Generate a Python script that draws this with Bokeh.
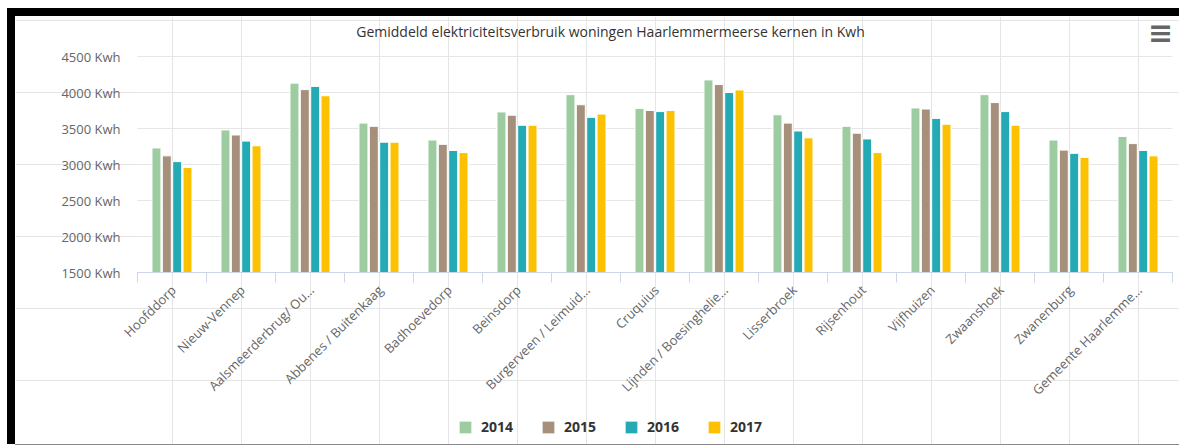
from math import pi
from bokeh.plotting import figure
from bokeh.models import FactorRange, Range1d, Label, ColumnDataSource
from bokeh.transform import dodge
from bokeh.core.properties import value
from bokeh.embed import file_html
from bokeh.resources import INLINE

# ---------------- data ----------------
categories = ["Hoofddorp", "Nieuw-Vennep", "Aalsmeerderbrug/ Ou…", "Abbenes / Buitenkaag",
              "Badhoevedorp", "Beinsdorp", "Burgerveen / Leimuid…", "Cruquius",
              "Lijnden / Boesinghelie…", "Lisserbroek", "Rijsenhout", "Vijfhuizen",
              "Zwaanshoek", "Zwanenburg", "Gemeente Haarlemme…"]
years = ["2014", "2015", "2016", "2017"]
v2014 = [3230, 3480, 4130, 3575, 3340, 3730, 3970, 3780, 4175, 3690, 3530, 3785, 3970, 3340, 3390]
v2015 = [3120, 3410, 4040, 3530, 3280, 3685, 3830, 3750, 4110, 3575, 3435, 3770, 3860, 3200, 3290]
v2016 = [3040, 3325, 4085, 3310, 3195, 3545, 3655, 3735, 4000, 3465, 3355, 3640, 3735, 3155, 3195]
v2017 = [2960, 3260, 3955, 3310, 3165, 3545, 3700, 3750, 4035, 3370, 3165, 3560, 3545, 3100, 3120]
y_ticks = [1500, 2000, 2500, 3000, 3500, 4000, 4500]
title_text = "Gemiddeld elektriciteitsverbruik woningen Haarlemmermeerse kernen in Kwh"

colors = ["#9ccc9f", "#a68f7b", "#23aab5", "#fcc100"]
offsets = [-0.225, -0.075, 0.075, 0.225]
FONT = "Open Sans"

# layout (pixels): the frame fills the whole figure, so every text is drawn inside it.
FIG_H, AXIS_FROM_TOP, PLOT_PX = 428, 256, 216
CAT_PX, LEFT_PX = 69, 122
per_px = (y_ticks[-1] - y_ticks[0]) / PLOT_PX
y_top = y_ticks[0] + AXIS_FROM_TOP * per_px
y_bottom = y_ticks[0] - (FIG_H - AXIS_FROM_TOP) * per_px
pad = LEFT_PX / CAT_PX
fig_w = CAT_PX * len(categories) + 2 * LEFT_PX

source = ColumnDataSource(dict(cat=categories, y2014=v2014, y2015=v2015, y2016=v2016, y2017=v2017))
last_source = ColumnDataSource(dict(cat=categories[-1:]))
ysrc = ColumnDataSource(dict(first=[categories[0]] * len(y_ticks), last=[categories[-1]] * len(y_ticks),
                             y=y_ticks, label=["%d Kwh" % t for t in y_ticks]))

p = figure(x_range=FactorRange(*categories, range_padding=pad, range_padding_units="absolute"),
           y_range=Range1d(y_bottom, y_top),
           width=fig_w, height=FIG_H, min_border_left=0, min_border_right=0,
           min_border_top=0, min_border_bottom=0, title=None,
           output_backend="svg", toolbar_location=None, x_axis_location=None, y_axis_location=None)
p.margin = (16, 0, 0, 15)
p.styles = {"box-shadow": "-8px -8px 0 0 #000, 0 -8px 0 0 #000, -8px 0 0 0 #000, 0 1px 0 0 #8a8a8a"}
p.outline_line_color = None
p.background_fill_color = "white"
p.border_fill_color = "white"

# horizontal grid lines and y labels
p.segment(x0=dodge("first", -0.5, range=p.x_range), x1=dodge("last", 0.5, range=p.x_range),
          y0="y", y1="y", source=ysrc, line_color="#e6e6e6", line_width=1)
p.text(x=dodge("first", -0.5, range=p.x_range), y="y", text="label", source=ysrc,
       x_offset=-17, text_align="right", text_baseline="middle",
       text_font=value(FONT), text_font_size=value("13px"), text_color="#666666")

for yr, col, off in zip(years, colors, offsets):
    p.vbar(x=dodge("cat", off, range=p.x_range), top="y" + yr, bottom=y_ticks[0], width=0.13,
           source=source, fill_color=col, line_color="white", line_width=1, legend_label=yr)

# x axis line, boundary ticks and rotated category labels
p.segment(x0=dodge("first", -0.5, range=p.x_range), x1=dodge("last", 0.5, range=p.x_range),
          y0="y", y1="y", source=ColumnDataSource(dict(first=[categories[0]], last=[categories[-1]],
                                                         y=y_ticks[:1])),
          line_color="#ccd6eb", line_width=1)
p.ray(x=dodge("cat", -0.5, range=p.x_range), y=y_ticks[0], length=10, length_units="screen",
      angle=-pi / 2, line_color="#ccd6eb", line_width=1, source=source)
p.ray(x=dodge("cat", 0.5, range=p.x_range), y=y_ticks[0], length=10, length_units="screen",
      angle=-pi / 2, line_color="#ccd6eb", line_width=1, source=last_source)
p.text(x=dodge("cat", 0.02, range=p.x_range), y=y_ticks[0], text="cat", source=source,
       angle=pi / 4, y_offset=15, text_align="right", text_baseline="middle",
       text_font=value(FONT), text_font_size=value("13px"), text_color="#666666")

# title and menu icon (screen units relative to the frame)
p.add_layout(Label(x=595, y=413, x_units="screen", y_units="screen", text=title_text,
                   text_font=FONT, text_font_size="14px", text_color="#333333",
                   text_align="center", text_baseline="middle"))
p.add_layout(Label(x=1145, y=412, x_units="screen", y_units="screen", text="≡",
                   text_font="DejaVu Sans", text_font_size="30px", text_font_style="bold",
                   text_color="#666666", text_align="center", text_baseline="middle"))

# legend (inside the frame, at its bottom)
lg = p.legend[0]
lg.orientation = "horizontal"
lg.location = (442, 8)
lg.glyph_width = 16
lg.glyph_height = 16
lg.label_height = 16
lg.label_standoff = 8
lg.spacing = 27
lg.padding = 0
lg.margin = 0
lg.border_line_color = None
lg.background_fill_alpha = 0
lg.label_text_font = FONT
lg.label_text_font_size = "14px"
lg.label_text_font_style = "bold"
lg.label_text_color = "#333333"

open("out.html", "w").write(file_html(p, INLINE))
